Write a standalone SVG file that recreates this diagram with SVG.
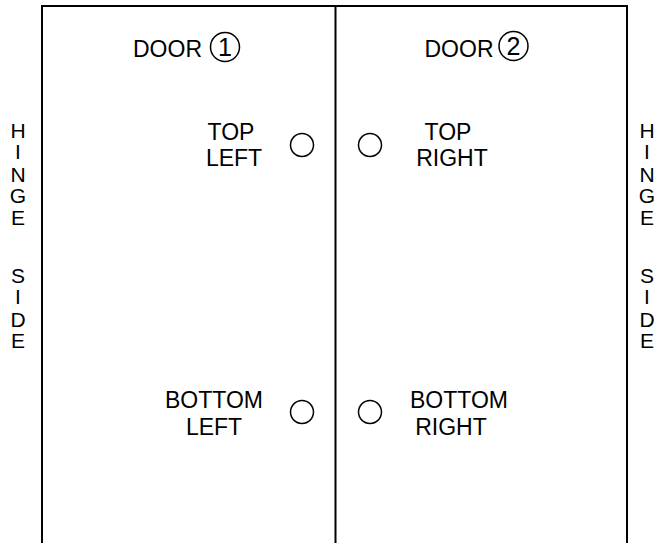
<svg xmlns="http://www.w3.org/2000/svg" width="665" height="543" viewBox="0 0 665 543">
<style>
.ln{stroke:#000;stroke-width:2;fill:none}
.c{stroke:#000;stroke-width:1.5;fill:none}
text{font-family:"Liberation Sans",Arial,sans-serif;fill:#000}
.t{font-size:23px;text-anchor:middle}
.d{font-size:25px;text-anchor:middle}
.s{font-size:21px;text-anchor:middle}
</style>
<rect width="665" height="543" fill="#fff"/>
<g id="frame">
<path class="ln" d="M42,543 V6 H627 V543"/>
<line class="ln" x1="335.5" y1="6" x2="335.5" y2="543"/>
</g>
<g id="door1">
<text x="167.5" y="57" class="t">DOOR</text>
<circle class="c" cx="225" cy="47" r="14.5"/>
<text x="225" y="56" class="d">1</text>
</g>
<g id="door2">
<text x="459" y="57" class="t">DOOR</text>
<circle class="c" cx="513.5" cy="46" r="14.5"/>
<text x="513.5" y="55" class="d">2</text>
</g>
<g id="topleft">
<text class="t" x="231" y="140">TOP</text>
<text class="t" x="234" y="166">LEFT</text>
<circle class="c" cx="302" cy="145" r="11.5"/>
</g>
<g id="topright">
<text class="t" x="448" y="140">TOP</text>
<text class="t" x="452" y="166">RIGHT</text>
<circle class="c" cx="370" cy="145" r="11.5"/>
</g>
<g id="bottomleft">
<text class="t" x="214" y="408">BOTTOM</text>
<text class="t" x="214" y="435">LEFT</text>
<circle class="c" cx="302" cy="412" r="11.5"/>
</g>
<g id="bottomright">
<text class="t" x="459" y="408">BOTTOM</text>
<text class="t" x="451" y="435">RIGHT</text>
<circle class="c" cx="370" cy="412" r="11.5"/>
</g>
<g id="hinge-left">
<text class="s" x="18" y="138">H</text>
<text class="s" x="18" y="159">I</text>
<text class="s" x="18" y="182">N</text>
<text class="s" x="18" y="203">G</text>
<text class="s" x="18" y="225">E</text>
<text class="s" x="18" y="283">S</text>
<text class="s" x="18" y="304">I</text>
<text class="s" x="18" y="327">D</text>
<text class="s" x="18" y="348">E</text>
</g>
<g id="hinge-right">
<text class="s" x="647" y="138">H</text>
<text class="s" x="647" y="159">I</text>
<text class="s" x="647" y="182">N</text>
<text class="s" x="647" y="203">G</text>
<text class="s" x="647" y="225">E</text>
<text class="s" x="647" y="283">S</text>
<text class="s" x="647" y="304">I</text>
<text class="s" x="647" y="327">D</text>
<text class="s" x="647" y="348">E</text>
</g>
</svg>
